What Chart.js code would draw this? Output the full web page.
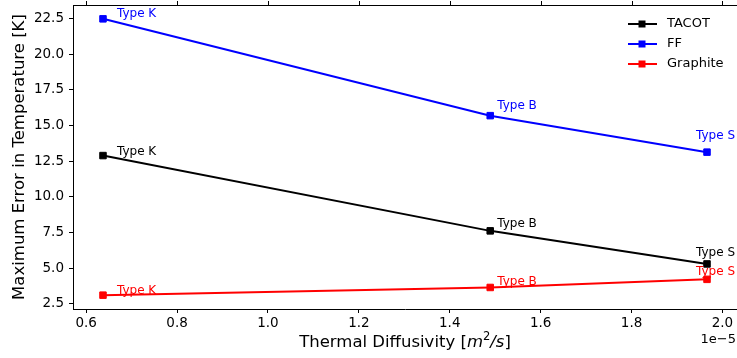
<!DOCTYPE html>
<html>
<head>
<meta charset="utf-8">
<script src="https://cdn.jsdelivr.net/npm/chart.js@4"></script>
<style>
  html, body { margin: 0; padding: 0; background: #fff; }
  #wrap { width: 737px; height: 358px; }
</style>
</head>
<body>
<div id="wrap"><canvas id="chart"></canvas></div>
<script>
// x values are in units of 1e-5 m^2/s (offset text drawn at the bottom right)
const xValues = [0.637, 1.489, 1.966];
const pointLabels = ['Type K', 'Type B', 'Type S'];
const tacot = [12.9, 7.62, 5.3];
const ff = [22.49, 15.7, 13.14];
const graphite = [3.11, 3.65, 4.22];
const xTicks = [0.6, 0.8, 1.0, 1.2, 1.4, 1.6, 1.8, 2.0];
const yTicks = [2.5, 5.0, 7.5, 10.0, 12.5, 15.0, 17.5, 20.0, 22.5];

const FONT = '"DejaVu Sans", sans-serif';

// where each "Type X" label sits relative to its marker (px)
const labelOffsets = {
    TACOT: [[14, -3.5], [7, -7], [-11, -11]],
    FF: [[14, -5], [7, -10], [-11, -16]],
    Graphite: [[14, -4], [7, -6], [-11, -7]]
};

function series(label, values, color) {
    return {
        label: label,
        data: xValues.map((x, i) => ({ x: x, y: values[i] })),
        borderColor: color,
        backgroundColor: color,
        borderWidth: 2,
        pointStyle: 'rect',
        pointRadius: 4.6,
        pointBorderWidth: 1,
        pointHoverRadius: 4.6,
        tension: 0
    };
}

const dataMain = {
    datasets: [
        series('TACOT', tacot, '#000000'),
        series('FF', ff, '#0000ff'),
        series('Graphite', graphite, '#ff0000')
    ]
};

// Top spine with ticks, legend, point labels and axis titles
const extras = {
    id: 'extras',
    afterDatasetsDraw: (chart) => {
        const ctx = chart.ctx;
        const area = chart.chartArea;
        const xs = chart.scales.x;

        ctx.save();
        // top spine + ticks
        ctx.strokeStyle = '#000';
        ctx.lineWidth = 1;
        ctx.beginPath();
        ctx.moveTo(area.left, area.top + 0.5);
        ctx.lineTo(area.right, area.top + 0.5);
        xTicks.forEach(v => {
            const px = Math.round(xs.getPixelForValue(v)) + 0.5;
            ctx.moveTo(px, area.top);
            ctx.lineTo(px, area.top - 4);
        });
        ctx.stroke();

        // point labels
        ctx.font = '12px ' + FONT;
        ctx.textAlign = 'left';
        ctx.textBaseline = 'middle';
        chart.data.datasets.forEach((ds, di) => {
            const meta = chart.getDatasetMeta(di);
            meta.data.forEach((pt, i) => {
                const off = labelOffsets[ds.label][i];
                ctx.fillStyle = ds.borderColor;
                ctx.fillText(pointLabels[i], pt.x + off[0], pt.y + off[1]);
            });
        });

        // legend
        ctx.font = '13px ' + FONT;
        chart.data.datasets.forEach((ds, di) => {
            const y = 24 + di * 20;
            ctx.strokeStyle = ds.borderColor;
            ctx.lineWidth = 2;
            ctx.beginPath();
            ctx.moveTo(628, y);
            ctx.lineTo(657, y);
            ctx.stroke();
            ctx.fillStyle = ds.borderColor;
            ctx.fillRect(638.5, y - 3.5, 7, 7);
            ctx.fillStyle = '#000';
            ctx.fillText(ds.label, 667, y);
        });

        // y title
        ctx.save();
        ctx.translate(20, (area.top + area.bottom) / 2);
        ctx.rotate(-Math.PI / 2);
        ctx.font = '16.5px ' + FONT;
        ctx.textAlign = 'center';
        ctx.fillStyle = '#000';
        ctx.fillText('Maximum Error in Temperature [K]', 0, 0);
        ctx.restore();

        // x title with mathtext-like parts
        const parts = [
            { t: 'Thermal Diffusivity [', f: '16.5px ' + FONT, dy: 0 },
            { t: 'm', f: 'italic 16.5px ' + FONT, dy: 0 },
            { t: '2', f: '11.5px ' + FONT, dy: -6 },
            { t: '/s', f: 'italic 16.5px ' + FONT, dy: 0 },
            { t: ']', f: '16.5px ' + FONT, dy: 0 }
        ];
        let total = 0;
        parts.forEach(p => { ctx.font = p.f; p.w = ctx.measureText(p.t).width; total += p.w; });
        let cx = (area.left + area.right) / 2 - total / 2;
        ctx.textAlign = 'left';
        ctx.fillStyle = '#000';
        parts.forEach(p => {
            ctx.font = p.f;
            ctx.fillText(p.t, cx, 343 + p.dy);
            cx += p.w;
        });

        // offset text
        ctx.font = '13px ' + FONT;
        ctx.textAlign = 'right';
        ctx.fillText('1e\u22125', 736, 340);
        ctx.restore();
    }
};

const optionsMain = {
    responsive: true,
    maintainAspectRatio: false,
    animation: false,
    layout: {
        autoPadding: false,
        padding: { top: 5, right: 0, left: 0, bottom: 0 }
    },
    scales: {
        x: {
            type: 'linear',
            min: 0.571,
            max: 2.032,
            afterBuildTicks: (scale) => { scale.ticks = xTicks.map(v => ({ value: v })); },
            afterFit: (scale) => { scale.height = 49; scale.paddingLeft = 0; scale.paddingRight = 0; },
            grid: { drawOnChartArea: false, tickLength: 4, tickColor: '#000' },
            border: { color: '#000', width: 1 },
            ticks: {
                color: '#000',
                padding: 2,
                maxRotation: 0,
                font: { family: FONT, size: 13.5 },
                callback: (v) => v.toFixed(1)
            }
        },
        y: {
            min: 2.14,
            max: 23.46,
            afterBuildTicks: (scale) => { scale.ticks = yTicks.map(v => ({ value: v })); },
            afterFit: (scale) => { scale.width = 73; scale.paddingTop = 0; scale.paddingBottom = 0; },
            grid: { drawOnChartArea: false, tickLength: 4, tickColor: '#000' },
            border: { color: '#000', width: 1 },
            ticks: {
                color: '#000',
                padding: 5,
                font: { family: FONT, size: 13.5 },
                callback: (v) => v.toFixed(1)
            }
        }
    },
    plugins: {
        legend: { display: false },
        tooltip: { enabled: false }
    }
};

new Chart(document.querySelector('#chart'), {
    type: 'line',
    data: dataMain,
    options: optionsMain,
    plugins: [extras]
});
</script>
</body>
</html>
